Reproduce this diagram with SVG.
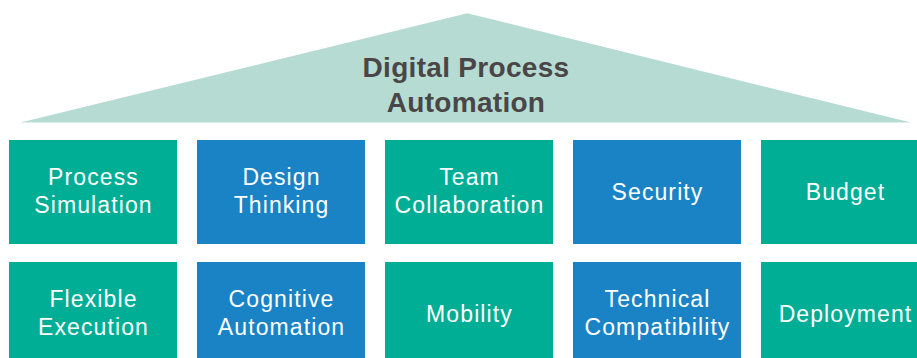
<svg xmlns="http://www.w3.org/2000/svg" width="917" height="358" viewBox="0 0 917 358">
  <style>
    .teal { fill: #00ae95; }
    .blue { fill: #1a83c5; }
    .label { font-family: "Liberation Sans", Arial, sans-serif; font-size: 23px; fill: #ffffff; text-anchor: middle; letter-spacing: 1.1px; }
    .title { font-family: "Liberation Sans", Arial, sans-serif; font-size: 28px; font-weight: bold; fill: #4a4646; text-anchor: middle; letter-spacing: 0.3px; }
  </style>
  <rect width="917" height="358" fill="#ffffff"/>

  <!-- roof -->
  <g id="roof">
    <polygon points="20.5,122.6 467.3,13.3 911,122.6" fill="#b5dbd3"/>
    <text class="title" x="466" y="77">Digital Process</text>
    <text class="title" x="466" y="112">Automation</text>
  </g>

  <!-- top row of pillars -->
  <g id="process-simulation">
    <rect class="teal" x="9" y="140" width="168" height="104"/>
    <text class="label" x="93.5" y="185">Process</text>
    <text class="label" x="93.5" y="213">Simulation</text>
  </g>
  <g id="design-thinking">
    <rect class="blue" x="197" y="140" width="168" height="104"/>
    <text class="label" x="281.5" y="185">Design</text>
    <text class="label" x="281.5" y="213">Thinking</text>
  </g>
  <g id="team-collaboration">
    <rect class="teal" x="385" y="140" width="168" height="104"/>
    <text class="label" x="469.5" y="185">Team</text>
    <text class="label" x="469.5" y="213">Collaboration</text>
  </g>
  <g id="security">
    <rect class="blue" x="573" y="140" width="168" height="104"/>
    <text class="label" x="657.5" y="200">Security</text>
  </g>
  <g id="budget">
    <rect class="teal" x="761" y="140" width="168" height="104"/>
    <text class="label" x="845.5" y="200">Budget</text>
  </g>

  <!-- bottom row of pillars -->
  <g id="flexible-execution">
    <rect class="teal" x="9" y="262" width="168" height="100"/>
    <text class="label" x="93.5" y="307">Flexible</text>
    <text class="label" x="93.5" y="335">Execution</text>
  </g>
  <g id="cognitive-automation">
    <rect class="blue" x="197" y="262" width="168" height="100"/>
    <text class="label" x="281.5" y="307">Cognitive</text>
    <text class="label" x="281.5" y="335">Automation</text>
  </g>
  <g id="mobility">
    <rect class="teal" x="385" y="262" width="168" height="100"/>
    <text class="label" x="469.5" y="322">Mobility</text>
  </g>
  <g id="technical-compatibility">
    <rect class="blue" x="573" y="262" width="168" height="100"/>
    <text class="label" x="657.5" y="307">Technical</text>
    <text class="label" x="657.5" y="335">Compatibility</text>
  </g>
  <g id="deployment">
    <rect class="teal" x="761" y="262" width="168" height="100"/>
    <text class="label" x="845.5" y="322">Deployment</text>
  </g>

  <g id="connectors"/>
</svg>
